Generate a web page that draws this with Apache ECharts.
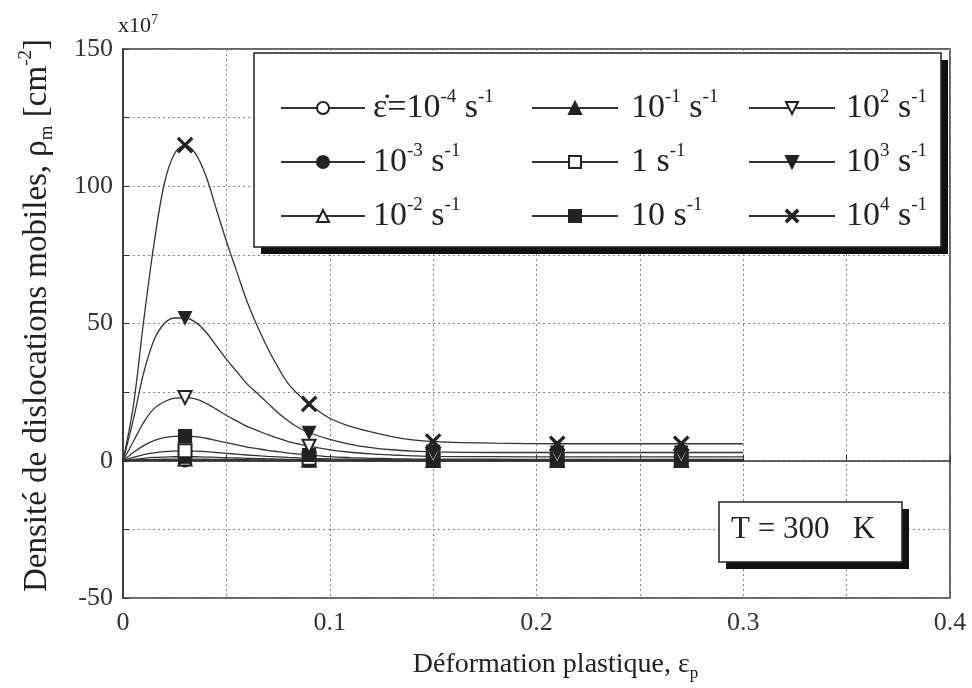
<!DOCTYPE html>
<html><head><meta charset="utf-8">
<script src="https://cdn.jsdelivr.net/npm/echarts@6/dist/echarts.min.js"></script>
<style>html,body{margin:0;padding:0;background:#fff;}#c{width:972px;height:688px;}</style>
</head><body><div id="c"></div>
<script>
// strain values (x) at which the curves were read
const strain = [0, 0.005, 0.01, 0.015, 0.02, 0.025, 0.03, 0.035, 0.04, 0.045, 0.05, 0.055, 0.06, 0.065, 0.07, 0.075, 0.08, 0.085, 0.09, 0.1, 0.11, 0.12, 0.13, 0.14, 0.15, 0.18, 0.21, 0.24, 0.27, 0.3];
// strains where markers are drawn
const markerStrain = [0.03, 0.09, 0.15, 0.21, 0.27];
// mobile dislocation density (x10^7 cm^-2)
const rho_m4 = [0, 0.03, 0.06, 0.08, 0.09, 0.1, 0.1, 0.1, 0.09, 0.08, 0.075, 0.07, 0.06, 0.05, 0.045, 0.04, 0.035, 0.03, 0.028, 0.022, 0.018, 0.015, 0.013, 0.012, 0.011, 0.01, 0.01, 0.01, 0.01, 0.01];
const rho_m3 = [0, 0.08, 0.15, 0.2, 0.23, 0.25, 0.25, 0.25, 0.23, 0.21, 0.19, 0.17, 0.15, 0.13, 0.12, 0.1, 0.09, 0.08, 0.07, 0.06, 0.05, 0.04, 0.035, 0.03, 0.03, 0.03, 0.03, 0.03, 0.03, 0.03];
const rho_m2 = [0, 0.2, 0.36, 0.48, 0.55, 0.59, 0.6, 0.59, 0.55, 0.5, 0.45, 0.4, 0.36, 0.32, 0.28, 0.25, 0.22, 0.19, 0.17, 0.13, 0.11, 0.09, 0.08, 0.07, 0.07, 0.06, 0.06, 0.06, 0.06, 0.06];
const rho_m1 = [0, 0.5, 0.9, 1.2, 1.35, 1.45, 1.5, 1.45, 1.35, 1.25, 1.1, 1, 0.88, 0.78, 0.68, 0.6, 0.52, 0.45, 0.4, 0.32, 0.26, 0.22, 0.19, 0.17, 0.16, 0.15, 0.15, 0.15, 0.15, 0.15];
const rho_0 = [0, 1.2, 2.2, 2.9, 3.3, 3.5, 3.6, 3.5, 3.3, 3, 2.7, 2.4, 2.1, 1.85, 1.6, 1.4, 1.2, 1.05, 0.9, 0.7, 0.55, 0.45, 0.38, 0.33, 0.3, 0.27, 0.25, 0.25, 0.25, 0.25];
const rho_1 = [0, 3, 5.5, 7.3, 8.4, 8.9, 9, 8.8, 8.2, 7.4, 6.6, 5.8, 5, 4.4, 3.8, 3.3, 2.8, 2.4, 2.1, 1.5, 1.15, 0.9, 0.75, 0.65, 0.6, 0.55, 0.5, 0.5, 0.5, 0.5];
const rho_2 = [0, 7, 14, 19, 21.5, 22.8, 23, 22.5, 21, 18.8, 16.5, 14.5, 12.5, 11, 9.5, 8.2, 7, 6.1, 5.3, 4, 3.1, 2.5, 2.1, 1.8, 1.6, 1.5, 1.4, 1.4, 1.4, 1.4];
const rho_3 = [0, 15, 32, 44, 50, 52, 52, 50.5, 47, 42, 37, 32.5, 28, 24.5, 21, 17.5, 14.5, 12, 10.2, 7.8, 6, 4.8, 4, 3.5, 3.2, 3, 3, 3, 3, 3];
const rho_4 = [0, 20, 51, 79, 101, 112, 115, 112, 104, 92, 80, 69, 58, 49, 41, 34, 28, 24, 20.7, 15.5, 12.5, 10.5, 8.8, 7.6, 7, 6.4, 6.2, 6.2, 6.2, 6.2];
// series names and legend labels
const seriesNames = ['r-4', 'r-3', 'r-2', 'r-1', 'r0', 'r1', 'r2', 'r3', 'r4'];
const legendLabels = {
  'r-4': '{eps|ε̇}=10{sup|-4} s{sup|-1}',
  'r-3': '10{sup|-3} s{sup|-1}',
  'r-2': '10{sup|-2} s{sup|-1}',
  'r-1': '10{sup|-1} s{sup|-1}',
  'r0': '1 s{sup|-1}',
  'r1': '10 s{sup|-1}',
  'r2': '10{sup|2} s{sup|-1}',
  'r3': '10{sup|3} s{sup|-1}',
  'r4': '10{sup|4} s{sup|-1}'
};
const seriesValues = [rho_m4, rho_m3, rho_m2, rho_m1, rho_0, rho_1, rho_2, rho_3, rho_4];
const xTicks = ['0', '0.1', '0.2', '0.3', '0.4'];
const yTicks = ['-50', '0', '50', '100', '150'];

const FONT = '"Liberation Serif", "DejaVu Serif", serif';
const INK = '#222';
const crossPath = 'path://M0,1 L1,0 L5,4 L9,0 L10,1 L6,5 L10,9 L9,10 L5,6 L1,10 L0,9 L4,5 Z';
const symbols = [
  {symbol: 'emptyCircle', rot: 0, size: 12},
  {symbol: 'circle', rot: 0, size: 12},
  {symbol: 'emptyTriangle', rot: 0, size: 13},
  {symbol: 'triangle', rot: 0, size: 13},
  {symbol: 'emptyRect', rot: 0, size: 13},
  {symbol: 'rect', rot: 0, size: 13},
  {symbol: 'emptyTriangle', rot: 180, size: 13},
  {symbol: 'triangle', rot: 180, size: 13},
  {symbol: crossPath, rot: 0, size: 15}
];

function isMarker(x) { return markerStrain.some(m => Math.abs(m - x) < 1e-9); }

const series = seriesNames.map((name, i) => ({
  name: name,
  type: 'line',
  smooth: 0.35,
  symbol: symbols[i].symbol,
  symbolRotate: symbols[i].rot,
  symbolSize: symbols[i].size,
  showAllSymbol: true,
  color: INK,
  lineStyle: {color: '#333', width: 1.3},
  itemStyle: {color: INK, borderColor: INK, borderWidth: 1.2},
  z: 3 + i,
  data: strain.map((x, k) => isMarker(x) ? {value: [x, seriesValues[i][k]]} : {value: [x, seriesValues[i][k]], symbol: 'none'})
}));

const richSup = {
  sup: {fontSize: 19, fontFamily: FONT, color: INK, verticalAlign: 'top', lineHeight: 20},
  eps: {fontSize: 34, fontFamily: FONT, color: INK}
};
const colLeft = [275, 526, 743];
const colItemWidth = [84, 86, 86];
const colPad = [3, 8, 6];
const cols = [['r-4', 'r-3', 'r-2'], ['r-1', 'r0', 'r1'], ['r2', 'r3', 'r4']];
const legends = cols.map((c, j) => ({
  data: c,
  orient: 'vertical',
  left: colLeft[j],
  top: 83,
  itemWidth: colItemWidth[j],
  itemHeight: 15,
  itemGap: 14,
  z: 200,
  selectedMode: false,
  formatter: n => legendLabels[n],
  textStyle: {fontFamily: FONT, fontSize: 34, color: INK, lineHeight: 40, padding: [0, 0, 0, colPad[j]], rich: richSup}
}));

const chart = echarts.init(document.getElementById('c'), null, {renderer: 'canvas'});
chart.setOption({
  backgroundColor: '#fff',
  animation: false,
  grid: {left: 123, right: 22, top: 49, bottom: 90, show: true, borderColor: '#333', borderWidth: 1.5, backgroundColor: 'transparent'},
  legend: legends,
  xAxis: {
    type: 'value', min: 0, max: 0.4, interval: 0.05,
    name: 'Déformation plastique, ε{sub|p}',
    nameLocation: 'middle', nameGap: 50,
    nameTextStyle: {fontFamily: FONT, fontSize: 28, color: INK, lineHeight: 34, padding: [0, 0, 0, 38],
      rich: {sub: {fontSize: 17, fontFamily: FONT, color: INK, verticalAlign: 'bottom', lineHeight: 15}}},
    axisLine: {show: true, lineStyle: {color: '#333', width: 1.5}},
    axisTick: {show: true, inside: true, length: 6, lineStyle: {color: '#333'}},
    axisLabel: {fontFamily: FONT, fontSize: 26, color: '#333', margin: 12,
      formatter: v => { const k = Math.round(v * 20); return k % 2 === 0 ? xTicks[k / 2] : ''; }},
    splitLine: {show: true, lineStyle: {color: '#888', type: [2, 3], width: 1}}
  },
  yAxis: {
    type: 'value', min: -50, max: 150, interval: 25,
    name: 'Densité de dislocations mobiles, ρ{sub|m} [cm{sup|-2}]',
    nameLocation: 'middle', nameGap: 66,
    nameTextStyle: {fontFamily: FONT, fontSize: 33, color: INK, lineHeight: 40, padding: [0, 0, 0, 16],
      rich: {
        sub: {fontSize: 19, fontFamily: FONT, color: INK, verticalAlign: 'bottom', lineHeight: 17},
        sup: {fontSize: 19, fontFamily: FONT, color: INK, verticalAlign: 'top', lineHeight: 19}
      }},
    axisLine: {show: true, lineStyle: {color: '#333', width: 1.5}},
    axisTick: {show: true, inside: true, length: 6, lineStyle: {color: '#333'}},
    axisLabel: {fontFamily: FONT, fontSize: 26, color: '#333', margin: 10,
      formatter: v => { const k = Math.round((v + 50) / 25); return k % 2 === 0 ? yTicks[k / 2] : ''; }},
    splitLine: {show: true, lineStyle: {color: '#888', type: [2, 3], width: 1}}
  },
  graphic: [
    {type: 'rect', z: 150, shape: {x: 261, y: 60, width: 687, height: 194}, style: {fill: '#111'}},
    {type: 'rect', z: 151, shape: {x: 254, y: 53, width: 687, height: 194}, style: {fill: '#fff', stroke: INK, lineWidth: 1.5}},
    {type: 'rect', z: 150, shape: {x: 726, y: 509, width: 183, height: 60}, style: {fill: '#111'}},
    {type: 'rect', z: 151, shape: {x: 719, y: 502, width: 183, height: 60}, style: {fill: '#fff', stroke: INK, lineWidth: 1.5}},
    {type: 'text', z: 152, left: 731, top: 514, style: {text: 'T = 300   K', font: '31px ' + FONT, fill: INK}},
    {type: 'text', z: 152, left: 118, top: 13, style: {text: 'x10{sup|7}', font: '22px ' + FONT, fill: INK, lineHeight: 26,
      rich: {sup: {fontSize: 14, fontFamily: FONT, fill: INK, verticalAlign: 'top', lineHeight: 12}}}}
  ],
  series: series
});
</script>
</body></html>
